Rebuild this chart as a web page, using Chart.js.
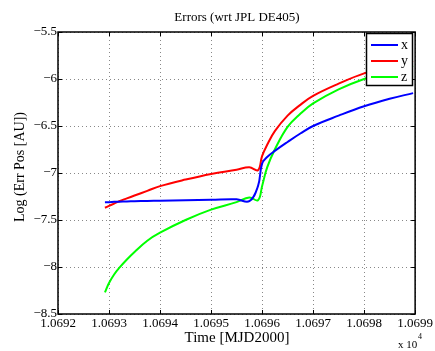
<!DOCTYPE html>
<html>
<head>
<meta charset="utf-8">
<script src="https://cdn.jsdelivr.net/npm/chart.js@4"></script>
<style>
  html, body { margin: 0; padding: 0; background: #fff; }
  #wrap { width: 435px; height: 351px; }
</style>
</head>
<body>
<div id="wrap"><canvas id="errChart" width="435" height="351"></canvas></div>
<script>
// time in MJD2000 days
const time = [10692.92, 10693.0, 10693.1, 10693.2, 10693.35, 10693.5, 10693.75, 10694.0, 10694.5, 10695.0,
    10695.5, 10695.75, 10695.92, 10696.0, 10696.1, 10696.25, 10696.5, 10696.75, 10697.0, 10697.5,
    10698.0, 10698.5, 10698.96];

// log10 of position error [AU]
const errX = [-7.31, -7.31, -7.307, -7.305, -7.302, -7.30, -7.297, -7.295, -7.29, -7.285,
    -7.28, -7.30, -7.14, -6.90, -6.83, -6.765, -6.67, -6.58, -6.50, -6.39,
    -6.29, -6.21, -6.15];
const errY = [-7.37, -7.35, -7.325, -7.30, -7.27, -7.24, -7.19, -7.14, -7.07, -7.01,
    -6.965, -6.94, -6.97, -6.82, -6.70, -6.555, -6.39, -6.275, -6.18, -6.05,
    -5.94, -5.87, -5.81];
const errZ = [-8.27, -8.17, -8.08, -8.01, -7.92, -7.84, -7.72, -7.635, -7.50, -7.39,
    -7.31, -7.26, -7.29, -7.14, -6.94, -6.75, -6.51, -6.37, -6.26, -6.11,
    -6.00, -5.92, -5.86];

const seriesNames = ['x', 'y', 'z'];
const seriesColors = ['#0000ff', '#ff0000', '#00ff00'];
const xTicks = [10692, 10693, 10694, 10695, 10696, 10697, 10698, 10699];
const yTicks = [-8.5, -8, -7.5, -7, -6.5, -6, -5.5];

const serif = '"Liberation Serif", "DejaVu Serif", serif';

const toPoints = (vals) => vals.map((v, i) => ({ x: time[i], y: v }));

// box, inward ticks, titles and legend in the matlab style
const matlabFrame = {
    id: 'matlabFrame',
    afterDatasetsDraw(chart) {
        const { ctx, chartArea: a, scales } = chart;
        ctx.save();

        // inward tick marks on all four sides
        ctx.strokeStyle = '#000';
        ctx.lineWidth = 1;
        ctx.beginPath();
        xTicks.forEach((t) => {
            const px = Math.round(scales.x.getPixelForValue(t)) + 0.5;
            ctx.moveTo(px, a.bottom); ctx.lineTo(px, a.bottom - 4);
            ctx.moveTo(px, a.top); ctx.lineTo(px, a.top + 4);
        });
        yTicks.forEach((t) => {
            const py = Math.round(scales.y.getPixelForValue(t)) + 0.5;
            ctx.moveTo(a.left, py); ctx.lineTo(a.left + 4, py);
            ctx.moveTo(a.right, py); ctx.lineTo(a.right - 4, py);
        });
        ctx.stroke();

        // legend
        const lx = 366, ly = 33, lw = 46, lh = 52;
        ctx.fillStyle = '#fff';
        ctx.fillRect(lx, ly, lw, lh);
        ctx.lineWidth = 1.5;
        ctx.strokeRect(lx + 0.5, ly + 0.5, lw, lh);
        ctx.font = '14px ' + serif;
        ctx.textBaseline = 'middle';
        chart.data.datasets.forEach((ds, i) => {
            const y = ly + 12 + i * 16;
            ctx.strokeStyle = ds.borderColor;
            ctx.lineWidth = 2;
            ctx.beginPath();
            ctx.moveTo(lx + 5, y); ctx.lineTo(lx + 32, y);
            ctx.stroke();
            ctx.fillStyle = '#000';
            ctx.textAlign = 'left';
            ctx.fillText(ds.label, lx + 35, y);
        });

        // plot box
        ctx.strokeStyle = '#000';
        ctx.lineWidth = 1.5;
        ctx.strokeRect(a.left, a.top, a.right - a.left, a.bottom - a.top);

        // titles
        ctx.fillStyle = '#000';
        ctx.textAlign = 'center';
        ctx.textBaseline = 'middle';
        ctx.font = '13px ' + serif;
        ctx.fillText('Errors (wrt JPL DE405)', 237, 18);
        ctx.font = '15px ' + serif;
        ctx.fillText('Time [MJD2000]', 237, 338);
        ctx.save();
        ctx.translate(20, 167);
        ctx.rotate(-Math.PI / 2);
        ctx.font = '14px ' + serif;
        ctx.fillText('Log (Err Pos [AU])', 0, 0);
        ctx.restore();

        // axis multiplier
        ctx.textAlign = 'left';
        ctx.font = '11px ' + serif;
        ctx.fillText('x 10', 398, 345);
        ctx.font = '8px ' + serif;
        ctx.fillText('4', 418, 337);

        ctx.restore();
    },
};

new Chart(document.getElementById('errChart'), {
    type: 'scatter',
    data: {
        datasets: [errX, errY, errZ].map((vals, i) => ({
            label: seriesNames[i],
            data: toPoints(vals),
            showLine: true,
            borderColor: seriesColors[i],
            backgroundColor: seriesColors[i],
            borderWidth: 2,
            pointRadius: 0,
            tension: 0.4,
        })),
    },
    options: {
        responsive: false,
        animation: false,
        layout: { padding: { left: 0, top: 32, right: 19, bottom: 0 } },
        plugins: { legend: { display: false }, title: { display: false }, tooltip: { enabled: false } },
        scales: {
            x: {
                type: 'linear',
                min: 10692, max: 10699,
                afterFit: (s) => { s.height = 37; },
                afterBuildTicks: (s) => { s.ticks = xTicks.map((v) => ({ value: v })); },
                grid: { drawTicks: false, color: '#888', lineWidth: 1 },
                border: { display: false, dash: [1, 3] },
                ticks: {
                    padding: 2, color: '#000', maxRotation: 0, autoSkip: false,
                    font: { family: serif, size: 13 },
                    callback: (v) => (v / 1e4).toFixed(4),
                },
            },
            y: {
                min: -8.5, max: -5.5,
                afterFit: (s) => { s.width = 58; },
                afterBuildTicks: (s) => { s.ticks = yTicks.map((v) => ({ value: v })); },
                grid: { drawTicks: false, color: '#888', lineWidth: 1 },
                border: { display: false, dash: [1, 3] },
                ticks: {
                    padding: 1, color: '#000',
                    font: { family: serif, size: 13 },
                    callback: (v) => String(v).replace('-', '\u2212'),
                },
            },
        },
    },
    plugins: [matlabFrame],
});
</script>
</body>
</html>
